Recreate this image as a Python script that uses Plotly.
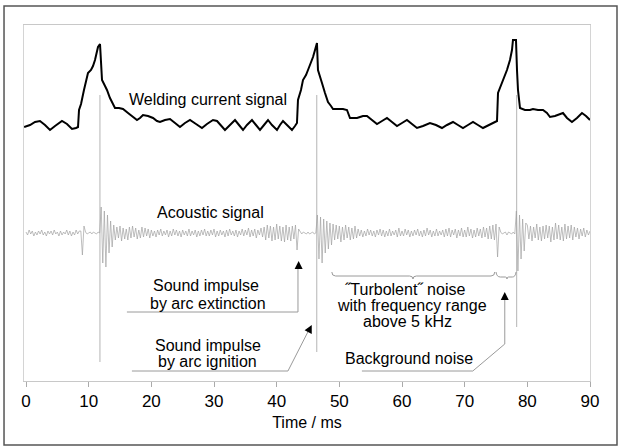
import plotly.graph_objects as go

# ---------------- data ----------------
# Welding current signal: time (ms) and level (arbitrary units)
current_t = [-0.3, 0.64, 1.44, 2.23, 3.03, 3.83, 4.63, 5.74, 6.54, 7.34, 7.98, 8.30, 8.46, 8.78, 9.25,
             9.57, 9.89, 10.37, 10.69, 11.01, 11.33, 11.49, 11.81, 11.97, 12.13, 12.61, 12.92, 13.40,
             13.88, 14.20, 14.84, 15.48, 16.28, 17.07, 17.71, 18.19, 18.67, 19.47, 20.27, 20.90, 21.38,
             22.18, 22.98, 23.78, 24.57, 25.37, 26.17, 27.13, 28.08, 28.88, 29.84, 30.48, 31.12, 31.75,
             32.55, 33.35, 33.99, 34.63, 35.26, 36.06, 36.70, 37.34, 37.98, 38.62, 39.25, 40.05, 40.53,
             41.01, 41.81, 42.44, 42.92, 43.24, 43.40, 43.88, 44.20, 44.68, 45.00, 45.48, 45.80, 46.12,
             46.43, 46.59, 46.91, 47.23, 47.71, 48.19, 48.67, 48.99, 49.78, 50.58, 51.22, 51.70, 52.18,
             52.82, 53.30, 53.77, 54.41, 55.21, 56.01, 56.81, 57.60, 58.40, 59.20, 60.00, 60.79, 61.59,
             62.39, 63.35, 64.46, 65.42, 66.38, 67.18, 68.14, 68.93, 69.73, 70.53, 71.33, 72.12, 72.92,
             73.88, 74.84, 75.16, 75.32, 75.64, 75.96, 76.43, 76.75, 77.23, 77.55, 77.71, 78.19, 78.35,
             78.51, 78.83, 79.62, 80.42, 80.90, 81.70, 82.50, 83.13, 83.61, 84.41, 85.21, 85.69, 86.33,
             87.12, 87.92, 88.72, 89.36, 90.00]
current_v = [255, 257, 260, 261, 257, 252, 256, 261, 258, 253, 254, 255, 272, 278, 292,
             302, 309, 312, 316, 322, 330, 335, 338, 319, 302, 296, 292, 284,
             278, 274, 274, 273, 269, 265, 262, 264, 267, 266, 264, 261, 260,
             262, 263, 259, 255, 259, 262, 258, 254, 258, 262, 261, 256, 252,
             257, 262, 257, 252, 257, 262, 257, 252, 257, 262, 257, 252, 257,
             261, 256, 252, 256, 259, 282, 292, 302, 307, 312, 319, 325, 332,
             339, 312, 304, 299, 289, 280, 276, 273, 273, 273, 272, 264, 264,
             264, 265, 266, 266, 262, 258, 261, 264, 260, 256, 259, 262, 258,
             254, 256, 259, 257, 254, 257, 260, 257, 254, 257, 260, 257, 254,
             257, 260, 261, 289, 294, 300, 306, 312, 322, 332, 342, 342, 312,
             292, 274, 272, 272, 273, 272, 272, 269, 265, 266, 268, 269, 264,
             260, 264, 269, 266, 262]

# Acoustic signal: baseline level and deviations sampled every 0.25 ms from 0 to 90 ms
acoustic_base = 149
acoustic_step_ms = 0.25
acoustic_dev = (
    [1, -2, 3, -1, 2, -3, 1, -2, 2, -1, 3, -2, 1, -3, 2, -1, 2, -2, 3, -1, 1, -3, 2, -2, 1, -1, 3, -2,
     2, -3, 1, -2, 3, -1, 2, 2]
    + [-22, 7]
    + [1, -1, 0, 1, -1, 1, 0, -1, 1, 0]
    + [26, -30, 22, -34, 18, -20, 12, -14]
    + [8, -7, 6, -5, 7, -8, 5, -6, 4, -7, 6, -5, 7, -4, 5, -6, 3, -5, 6, -4, 5, -3, 4, -5]
    + [3, -3, 2, -4, 3, -2, 4, -3, 2, -2, 3, -4, 2, -3, 4, -2, 3, -3, 2, -4,
       3, -2, 2, -3, 4, -3, 2, -2, 3, -4, 2, -3, 3, -2, 4, -3, 2, -3, 3, -2,
       4, -4, 2, -3, 3, -2, 2, -4, 3, -3, 4, -2, 2, -3, 3, -4, 2, -2, 4, -3,
       3, -2, 5, -4, 3, -3, 4, -5, 3, -2, 5, -4]
    + [6, -7, 8, -5, 7, -8, 6, -7, 9, -6, 7, -8, 6, -9, 8, -7, 6, -8, 7, -6, 8]
    + [-17, 4]
    + [1, -1, 1, 0, -1, 1, -1, 0, 1, -1, 0]
    + [18, -26, 16, -30, 14, -20, 12, -16, 10, -12]
    + [9, -7, 8, -6, 7, -9, 6, -7, 8, -5, 6, -7, 5, -6, 7, -5]
    + [4, -3, 3, -4, 2, -3, 4, -2, 3, -3, 2, -4, 3, -2, 4, -3, 3, -4, 2, -3,
       4, -3, 2, -2, 3, -4, 5, -3, 2, -3, 4, -2, 3, -4, 2, -3, 3, -2, 4, -3,
       2, -4, 3, -3, 5, -2, 3, -4, 2, -3, 4, -3, 2, -2, 3, -4, 4, -3, 5, -4,
       3, -2, 4, -5, 3, -3, 5, -4, 3, -4, 6, -3, 4, -5, 3, -4, 5, -3, 4, -5,
       6, -4, 5, -6]
    + [7, -6, 8, -7, 9]
    + [-24, 6]
    + [1, -1, 0, 1, -2, 1, 0, -1, 1, -1]
    + [22, -38, 18, -26, 14, -18, 10]
    + [8, -6, 7, -8, 6, -5, 9, -7, 6, -8, 7, -6, 8, -5, 7, -9, 6, -7, 10, -6,
       8, -7, 6, -8, 9, -6, 7, -5, 8, -7, 6, -4, 5, -6, 4, -3, 5, -4, 3, -2, 2]
)

# Vertical marker lines at the arc ignition moments
marker_t = [11.8, 46.4, 78.3]
marker_top = [287, 287, 287]
marker_bottom = [20, 30, 55]

x_ticks = [0, 10, 20, 30, 40, 50, 60, 70, 80, 90]

# ---------------- figure ----------------
acoustic_t = [i * acoustic_step_ms for i in range(len(acoustic_dev))]
acoustic_v = [acoustic_base + d for d in acoustic_dev]

mk_x, mk_y = [], []
for t, top, bot in zip(marker_t, marker_top, marker_bottom):
    mk_x += [t, t, None]
    mk_y += [top, bot, None]

fig = go.Figure()
fig.add_trace(go.Scatter(x=mk_x, y=mk_y, mode="lines",
                         line=dict(color="#b4b4b4", width=1), hoverinfo="skip"))
fig.add_trace(go.Scatter(x=acoustic_t, y=acoustic_v, mode="lines",
                         line=dict(color="#a2a2a2", width=0.7), name="Acoustic signal"))
fig.add_trace(go.Scatter(x=current_t, y=current_v, mode="lines",
                         line=dict(color="black", width=2.0),
                         name="Welding current signal"))

FONT = "Liberation Sans, Arial, sans-serif"
txt = dict(size=16, color="black", family=FONT)
GRAY = "#9a9a9a"

shapes = [
    # outer frame
    dict(type="rect", xref="paper", yref="paper", x0=-0.0353, x1=1.0477, y0=-0.18, y1=1.0534,
         line=dict(color="#555555", width=1.5), layer="below"),
    # extinction leader
    dict(type="path", xref="x", yref="y", path="M 16.1,70 L 43.4,70 L 43.4,117",
         line=dict(color=GRAY, width=1)),
    # ignition leader
    dict(type="path", xref="x", yref="y", path="M 16.9,11 L 41.8,11 L 45.3,54",
         line=dict(color=GRAY, width=1)),
    # background noise leader
    dict(type="path", xref="x", yref="y", path="M 53.6,11 L 71.3,11 L 76.4,38 L 76.4,85",
         line=dict(color=GRAY, width=1)),
    # brace under turbulent noise
    dict(type="path", xref="x", yref="y",
         path="M 48.8,110 Q 48.8,106 49.4,106 L 61.2,106 Q 61.75,106 61.75,103 "
              "Q 61.75,106 62.3,106 L 74.2,106 Q 74.8,106 74.8,110",
         line=dict(color=GRAY, width=1)),
    # brace under background noise
    dict(type="path", xref="x", yref="y",
         path="M 75.0,110 Q 75.1,105 75.7,105 L 76.5,105 Q 76.75,105 76.75,103 "
              "Q 76.75,105 77.0,105 L 77.6,105 Q 78.1,105 78.2,110",
         line=dict(color=GRAY, width=1)),
]

labels = [
    (29.0, 283, "Welding current signal"),
    (29.4, 170, "Acoustic signal"),
    (28.8, 97, "Sound impulse"),
    (29.0, 79, "by arc extinction"),
    (29.0, 37, "Sound impulse"),
    (29.0, 21, "by arc ignition"),
    (60.5, 93, "˝Turbolent˝ noise"),
    (61.6, 77, "with frequency range"),
    (60.9, 61, "above 5 kHz"),
    (61.1, 24, "Background noise"),
]
annotations = [dict(x=x, y=y, text=t, showarrow=False, font=txt) for x, y, t in labels]
annotations += [
    # black arrow heads
    dict(x=43.5, y=121, ax=0, ay=9, showarrow=True, arrowhead=2, arrowsize=1.6,
         arrowwidth=1, arrowcolor="black", text=""),
    dict(x=45.6, y=57, ax=-4, ay=8, showarrow=True, arrowhead=2, arrowsize=1.6,
         arrowwidth=1, arrowcolor="black", text=""),
    dict(x=76.4, y=90, ax=0, ay=9, showarrow=True, arrowhead=2, arrowsize=1.6,
         arrowwidth=1, arrowcolor="black", text=""),
]

fig.update_layout(
    width=618, height=446,
    margin=dict(l=24, r=28, t=25, b=65),
    paper_bgcolor="white", plot_bgcolor="white",
    showlegend=False,
    font=dict(family=FONT, color="black"),
    shapes=shapes, annotations=annotations,
    xaxis=dict(range=[-0.32, 90], tickvals=x_ticks, ticks="outside", ticklen=5,
               tickcolor="#aaaaaa", showgrid=False, zeroline=False,
               showline=True, linecolor="#c8c8c8", linewidth=1, mirror=True,
               tickfont=dict(size=17, color="black", family=FONT),
               title=dict(text="Time / ms", font=dict(size=16, color="black", family=FONT),
                          standoff=6)),
    yaxis=dict(range=[1, 357], showticklabels=False, ticks="", showgrid=False,
               zeroline=False, showline=True, linecolor="#d4d4d4", linewidth=1, mirror=True),
)

fig.write_html("out.html", config={"displayModeBar": False},
               post_script="document.body.style.margin='0';")
